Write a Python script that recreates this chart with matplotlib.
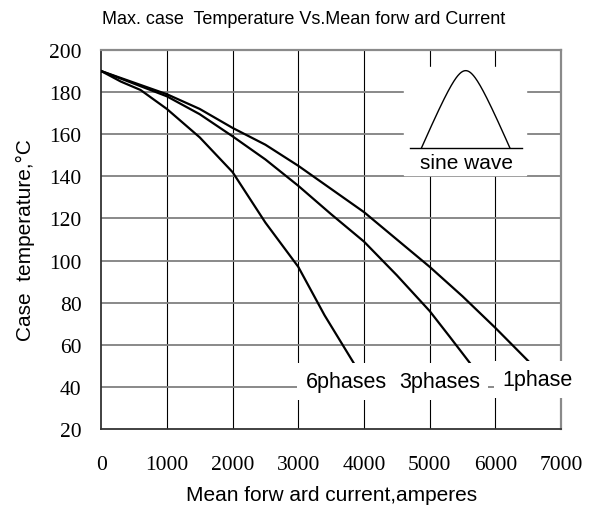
import numpy as np
import matplotlib
matplotlib.use('Agg')
import matplotlib.pyplot as plt

# curve data (current in A, case temp in degC)
x_1phase = [0, 500, 1000, 1500, 2000, 2500, 3000, 3500, 4000, 4500, 5000, 5500, 6000, 6540]
t_1phase = [190, 184.5, 179, 172, 163, 155, 145, 134, 123, 110, 97, 83, 68, 51]

x_3phases = [0, 500, 1000, 1500, 2000, 2500, 3000, 3500, 4000, 4500, 5000, 5300, 5620]
t_3phases = [190, 184, 178, 169.5, 159, 148, 135.5, 122, 109, 93, 76, 64, 51]

x_6phases = [0, 300, 600, 1000, 1500, 2000, 2500, 3000, 3400, 3850]
t_6phases = [190, 185, 181, 172, 158.5, 142, 118, 97, 74, 51]

labels = ['6phases', '3phases', '1phase']
label_x = [3730, 5150, 6640]
label_y = [42.5, 42.5, 43.5]

xticks = [0, 1000, 2000, 3000, 4000, 5000, 6000, 7000]
yticks = [20, 40, 60, 80, 100, 120, 140, 160, 180, 200]

sans = ['Liberation Sans', 'DejaVu Sans']
serif = ['Liberation Serif', 'DejaVu Serif']

fig = plt.figure(figsize=(5.95, 5.10), dpi=100)
ax = fig.add_axes([0.170, 0.157, 0.773, 0.743])

ax.set_xlim(0, 7000)
ax.set_ylim(20, 200)
ax.set_xticks(xticks)
ax.set_yticks(yticks)
ax.tick_params(length=0, labelsize=15.5)
ax.tick_params(axis='x', pad=19)
ax.tick_params(axis='y', pad=14)
for lab in ax.get_xticklabels() + ax.get_yticklabels():
    lab.set_family(serif)

# grid: vertical black & thin, horizontal gray & thicker
for xv in xticks[1:-1]:
    ax.axvline(xv, color='black', lw=0.8, zorder=1)
for yv in yticks[1:-1]:
    ax.axhline(yv, color='#808080', lw=1.3, zorder=1)

for s in ['left', 'bottom']:
    ax.spines[s].set_color('#333333')
    ax.spines[s].set_linewidth(1.3)
for s in ['top', 'right']:
    ax.spines[s].set_color('#8a8a8a')
    ax.spines[s].set_linewidth(1.6)

ax.plot(x_1phase, t_1phase, color='black', lw=1.6, zorder=3)
ax.plot(x_3phases, t_3phases, color='black', lw=1.6, zorder=3)
ax.plot(x_6phases, t_6phases, color='black', lw=1.6, zorder=3)

for txt, lx, ly in zip(labels, label_x, label_y):
    ax.text(lx, ly, txt, ha='center', va='center', fontsize=15.5, family=sans,
            bbox=dict(boxstyle='square,pad=0.38', fc='white', ec='none'),
            zorder=5, clip_on=False)

# sine wave inset: straight flanks, rounded top
ax.fill_between([4606, 6470], 140.8, 191.9, color='white', zorder=2)
ax.plot([4697, 6409], [153.4, 153.4], color='black', lw=1.0, zorder=3)
tt = np.linspace(0, 1, 200)
u = 2 * tt - 1
c = 0.3
f = (np.sqrt(1 + c**2) - np.sqrt(u**2 + c**2)) / (np.sqrt(1 + c**2) - c)
sx = 4874 + (6222 - 4874) * tt
sy = 153.4 + (190.2 - 153.4) * f
ax.plot(sx, sy, color='black', lw=1.0, zorder=3)
ax.text(5560, 146.5, 'sine wave', ha='center', va='center', fontsize=15, family=sans, zorder=4)

ax.set_xlabel('Mean forw ard current,amperes', fontsize=15, family=sans, labelpad=8)
ax.set_ylabel('Case  temperature,\u00b0C', fontsize=15, family=sans, labelpad=10)
fig.text(0.51, 0.962, 'Max. case  Temperature Vs.Mean forw ard Current',
         ha='center', va='center', fontsize=13, family=sans)

fig.savefig('out.png', dpi=100)
